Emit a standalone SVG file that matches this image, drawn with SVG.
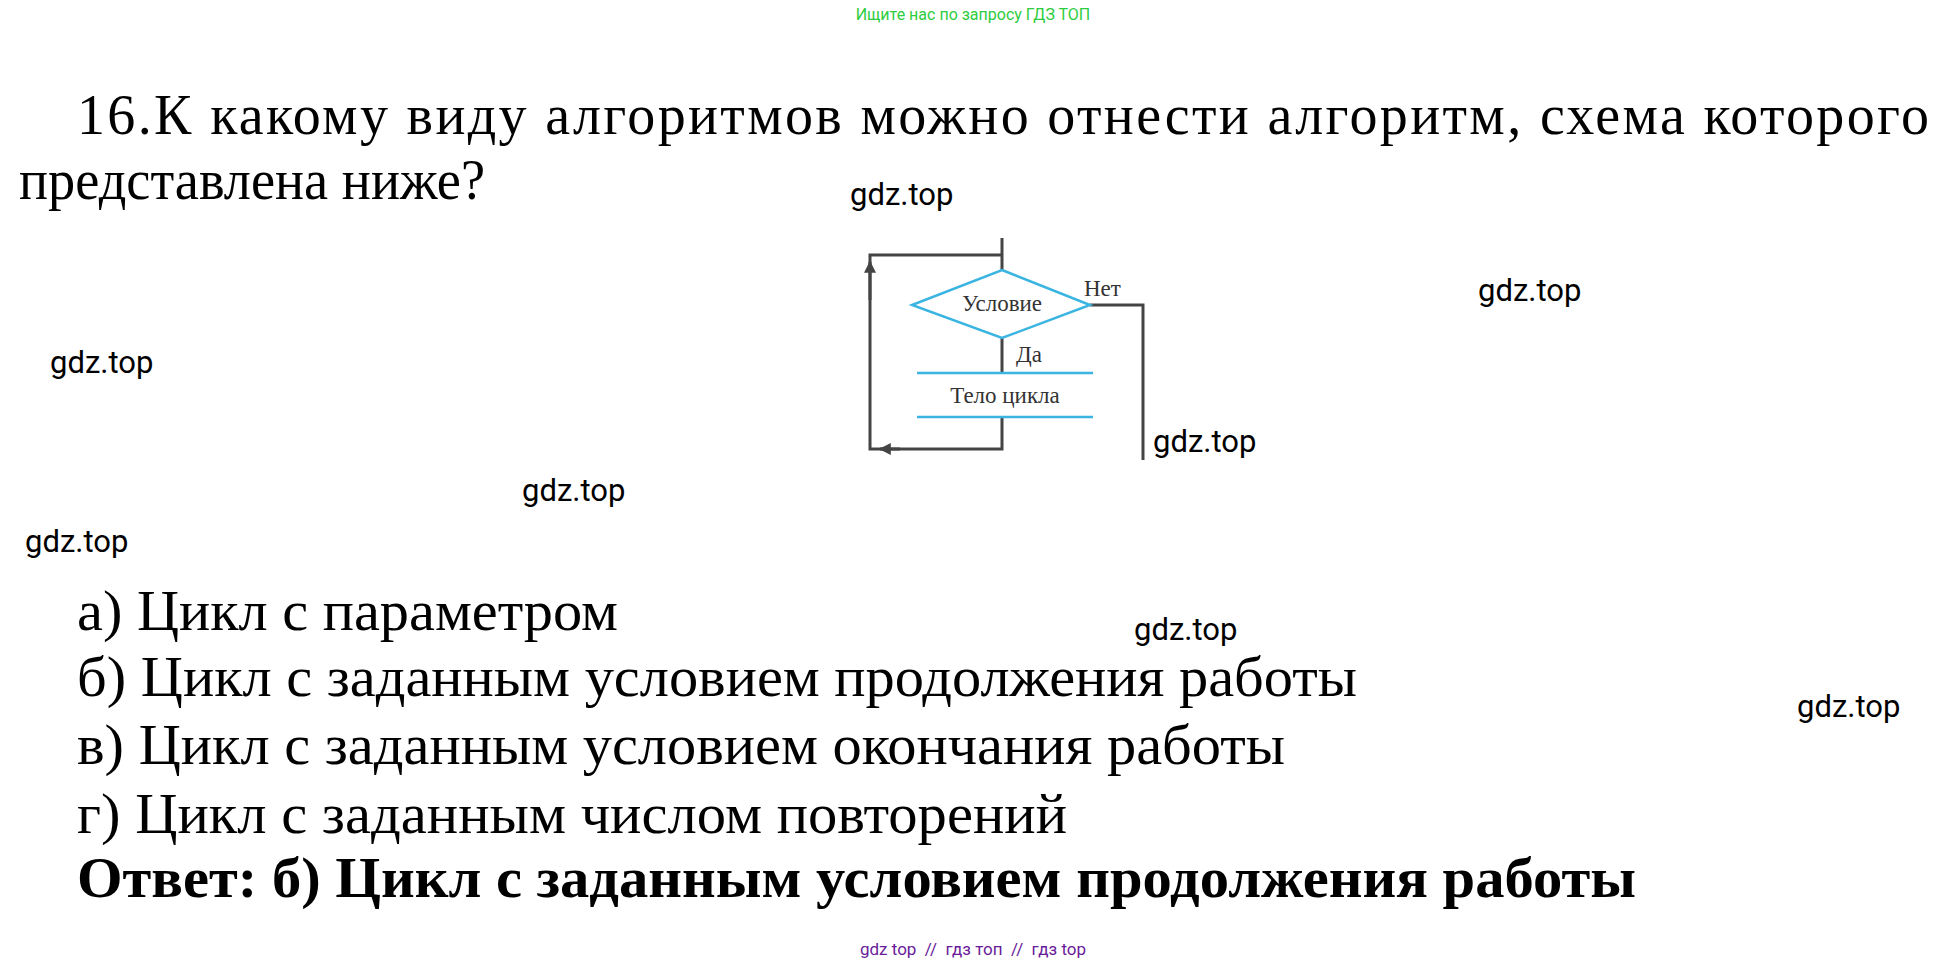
<svg xmlns="http://www.w3.org/2000/svg" width="1949" height="963" viewBox="0 0 1949 963">
<defs>
<style>
.q{font-family:"Liberation Serif",serif;font-size:56px;fill:#000}
.w{font-family:Roboto,"Liberation Sans",sans-serif;font-size:31px;fill:#000}
.s{font-family:"Liberation Serif",serif;font-size:23px;fill:#333}
.ln{stroke:#444;stroke-width:3;fill:none}
.bl{stroke:#3ab4e0;stroke-width:2.5;fill:none}
</style>
<marker id="ah" viewBox="0 0 10 10" refX="9" refY="5" markerWidth="4" markerHeight="4" orient="auto"><path d="M0,0L10,5L0,10z" fill="#444"/></marker>
</defs>
<rect width="1949" height="963" fill="#fff"/>
<text x="973" y="20" text-anchor="middle" font-family="Roboto,'Liberation Sans',sans-serif" font-size="16" fill="#2ecc40">Ищите нас по запросу ГДЗ ТОП</text>
<text class="q" x="77" y="134" textLength="1852" lengthAdjust="spacing">16.К какому виду алгоритмов можно отнести алгоритм, схема которого</text>
<text class="q" x="19" y="199" textLength="466" lengthAdjust="spacingAndGlyphs">представлена ниже?</text>
<g id="connectors">
<path class="ln" d="M1002,238V270"/>
<path class="ln" d="M1002,255H870V449H1002V417" />
<path class="ln" d="M870,300V262" marker-end="url(#ah)"/>
<path class="ln" d="M900,449H880" marker-end="url(#ah)"/>
<path class="ln" d="M1002,338V373"/>
<path class="ln" d="M1090,305H1143V460"/>
</g>
<g id="cond">
<polygon class="bl" points="1002,270 1090,305 1002,338 912,305" fill="#fff"/>
<text class="s" x="1002" y="311" text-anchor="middle">Условие</text>
<text class="s" x="1084" y="296">Нет</text>
<text class="s" x="1016" y="362">Да</text>
</g>
<g id="body">
<path class="bl" d="M917,373H1093M917,417H1093"/>
<text class="s" x="1005" y="403" text-anchor="middle">Тело цикла</text>
</g>
<g class="w">
<text x="850" y="205">gdz.top</text>
<text x="1478" y="301">gdz.top</text>
<text x="50" y="373">gdz.top</text>
<text x="1153" y="452">gdz.top</text>
<text x="522" y="501">gdz.top</text>
<text x="25" y="552">gdz.top</text>
<text x="1134" y="640">gdz.top</text>
<text x="1797" y="717">gdz.top</text>
</g>
<text class="q" x="77" y="630" textLength="541" lengthAdjust="spacingAndGlyphs">а) Цикл с параметром</text>
<text class="q" x="77" y="696" textLength="1280" lengthAdjust="spacingAndGlyphs">б) Цикл с заданным условием продолжения работы</text>
<text class="q" x="77" y="764" textLength="1208" lengthAdjust="spacingAndGlyphs">в) Цикл с заданным условием окончания работы</text>
<text class="q" x="77" y="833" textLength="990" lengthAdjust="spacingAndGlyphs">г) Цикл с заданным числом повторений</text>
<text class="q" x="77" y="897" font-weight="bold" textLength="1559" lengthAdjust="spacingAndGlyphs">Ответ: б) Цикл с заданным условием продолжения работы</text>
<text x="973" y="955" text-anchor="middle" font-family="Roboto,'Liberation Sans',sans-serif" font-size="17" fill="#6a1b9a" xml:space="preserve">gdz top  //  гдз топ  //  гдз top</text>
</svg>
